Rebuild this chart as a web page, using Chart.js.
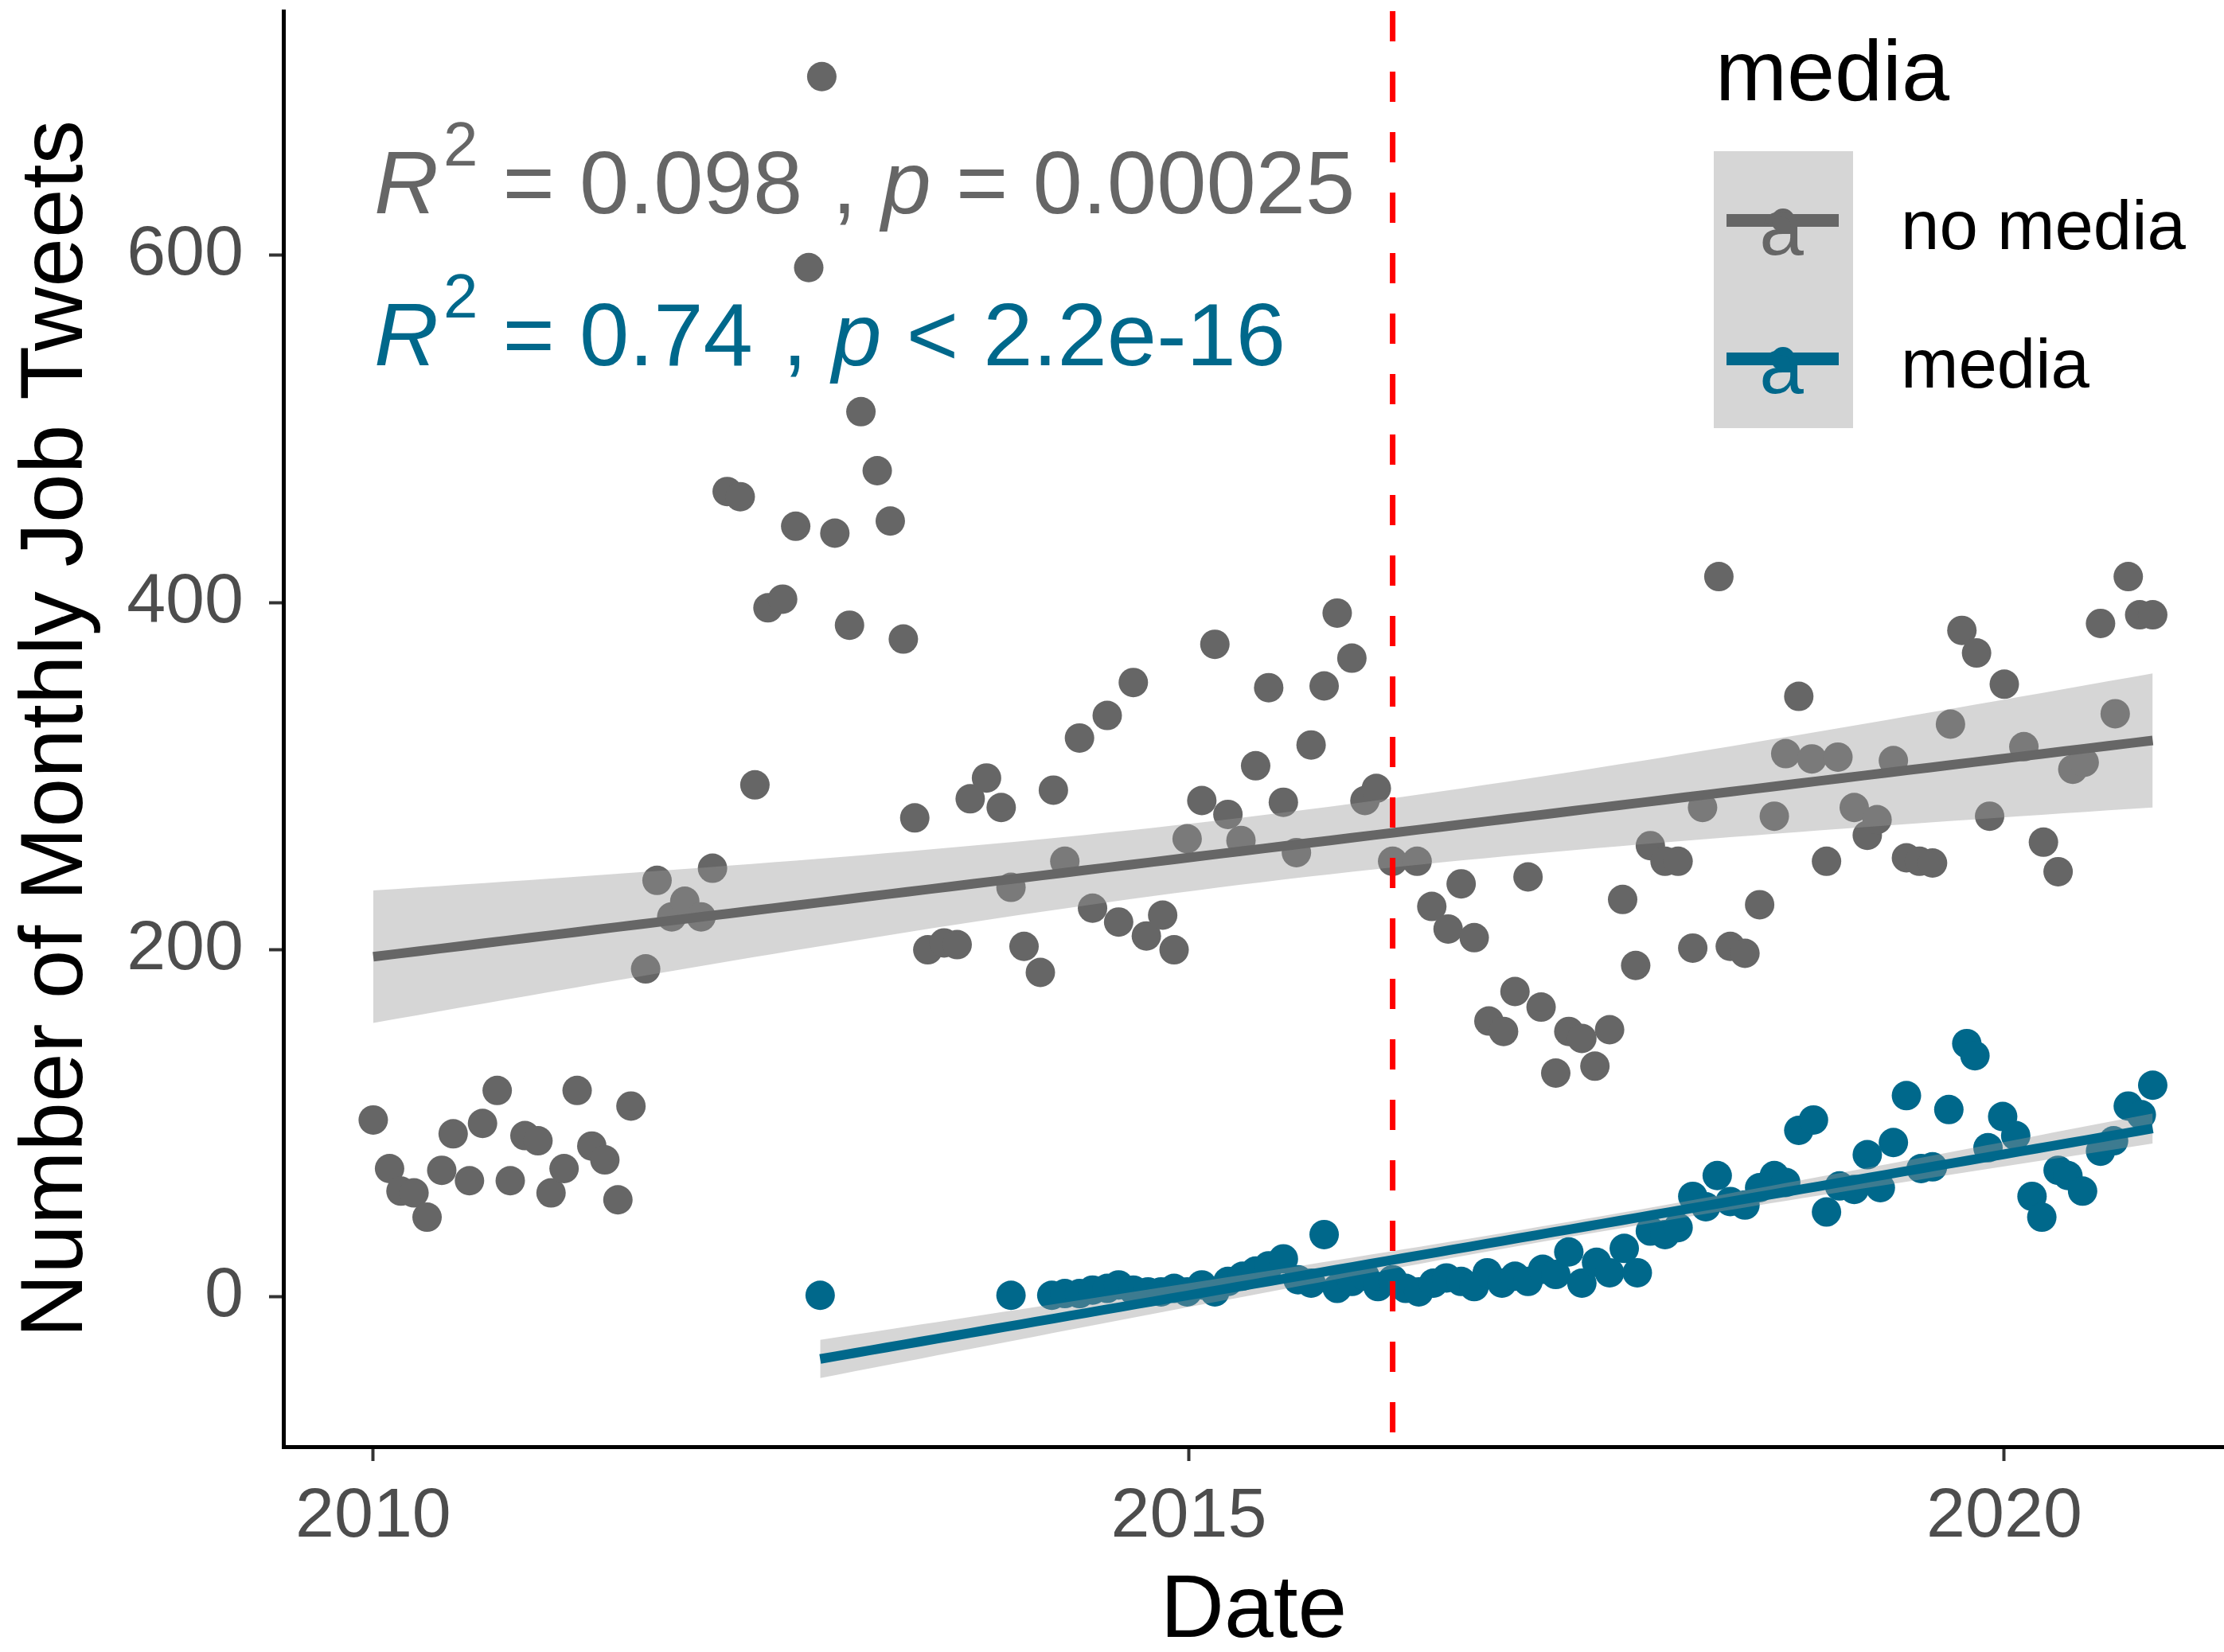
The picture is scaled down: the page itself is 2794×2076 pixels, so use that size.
<!DOCTYPE html>
<html>
<head>
<meta charset="utf-8">
<script src="https://cdn.jsdelivr.net/npm/chart.js@4.4.0/dist/chart.umd.min.js"></script>
<style>
html,body{margin:0;padding:0;background:#ffffff;overflow:hidden}
canvas{display:block}
</style>
</head>
<body>
<canvas id="c" width="2794" height="2076" style="width:2794px;height:2076px"></canvas>
<script>
// ---------------- data ----------------
const noMediaDate = [2010.00,2010.10,2010.17,2010.25,2010.33,2010.42,2010.49,2010.59,2010.67,2010.76,
  2010.84,2010.93,2011.01,2011.09,2011.17,2011.25,2011.34,2011.42,2011.50,2011.58,
  2011.67,2011.74,2011.83,2011.91,2012.01,2012.08,2012.17,2012.25,2012.34,2012.42,
  2012.51,2012.59,2012.67,2012.75,2012.83,2012.92,2012.99,2013.09,2013.17,2013.25,
  2013.32,2013.40,2013.50,2013.58,2013.66,2013.76,2013.85,2013.91,2013.99,2014.09,
  2014.17,2014.24,2014.33,2014.41,2014.50,2014.57,2014.66,2014.74,2014.84,2014.91,
  2014.99,2015.08,2015.16,2015.24,2015.32,2015.41,2015.49,2015.58,2015.66,2015.75,
  2015.83,2015.91,2016.00,2016.08,2016.15,2016.25,2016.40,2016.49,2016.59,2016.67,
  2016.75,2016.84,2016.93,2017.00,2017.08,2017.16,2017.25,2017.33,2017.41,2017.49,
  2017.58,2017.66,2017.74,2017.83,2017.92,2018.00,2018.09,2018.15,2018.25,2018.32,
  2018.41,2018.50,2018.59,2018.66,2018.74,2018.82,2018.91,2018.98,2019.08,2019.16,
  2019.22,2019.32,2019.40,2019.48,2019.56,2019.67,2019.74,2019.83,2019.91,2020.00,
  2020.12,2020.24,2020.33,2020.42,2020.49,2020.59,2020.68,2020.76,2020.83,2020.91];
const noMediaCount = [102,74,61,60,46,73,94,67,100,119,
  67,93,90,60,74,119,87,79,56,110,
  189,240,219,228,219,247,464,461,295,397,
  402,444,593,703,440,387,510,476,447,379,
  276,200,204,203,287,299,282,236,202,187,
  292,251,322,224,335,216,354,208,220,200,
  264,286,376,278,263,306,351,285,256,318,
  352,394,368,286,293,251,251,225,212,238,
  207,159,153,176,242,167,129,153,149,133,
  154,229,191,260,251,251,201,282,415,202,
  198,226,277,313,346,310,251,311,282,266,
  275,309,253,251,250,330,384,371,277,353,
  317,262,245,304,308,388,336,415,393,393];

const mediaDate = [2012.74,2013.91,2014.16,2014.24,2014.33,2014.41,2014.50,2014.57,2014.66,2014.75,
  2014.83,2014.91,2014.99,2015.08,2015.16,2015.24,2015.33,2015.41,2015.49,2015.58,
  2015.67,2015.75,2015.83,2015.91,2016.00,2016.08,2016.16,2016.25,2016.33,2016.41,
  2016.50,2016.58,2016.67,2016.75,2016.83,2016.92,2017.00,2017.08,2017.17,2017.25,
  2017.33,2017.41,2017.50,2017.58,2017.67,2017.75,2017.83,2017.92,2018.00,2018.09,
  2018.17,2018.24,2018.32,2018.41,2018.50,2018.59,2018.66,2018.74,2018.83,2018.91,
  2018.99,2019.08,2019.16,2019.24,2019.32,2019.40,2019.49,2019.56,2019.66,2019.77,
  2019.82,2019.90,2019.99,2020.07,2020.17,2020.23,2020.33,2020.39,2020.48,2020.59,
  2020.67,2020.76,2020.84,2020.91];
const mediaCount = [1,1,1,2,2,4,5,7,4,3,
  3,5,3,7,3,9,12,15,18,22,
  10,8,36,5,9,12,6,10,5,3,
  8,11,9,6,14,8,12,9,16,13,
  26,8,20,14,28,14,38,36,40,58,
  52,70,55,53,63,70,66,96,102,49,
  64,62,82,63,89,116,74,75,108,146,
  139,86,104,93,58,46,73,70,61,84,
  90,110,105,122];

const seriesNames = ['no media', 'media'];
const legendTitle = 'media';
const statR2 = ['0.098', '0.74'];
const statOp = ['=', '<'];
const statP  = ['0.00025', '2.2e-16'];
const policyDate = 2016.25;           // dashed reference line
const xTicks = [2010, 2015, 2020];
const yTicks = [0, 200, 400, 600];
const xLimits = [2009.449, 2021.347];
const yLimits = [-86.2, 740.7];

// ---------------- styling ----------------
const GREY = '#666666';
const BLUE = '#00688B';
const BAND = 'rgba(153,153,153,0.4)';
const FONT = "'Liberation Sans', Arial, Helvetica, sans-serif";

// linear model with 95% confidence band (like geom_smooth(method = 'lm'))
function lmBand(xs, ys, steps) {
  const n = xs.length;
  const mx = xs.reduce((a, b) => a + b, 0) / n;
  const my = ys.reduce((a, b) => a + b, 0) / n;
  let sxx = 0, sxy = 0;
  for (let i = 0; i < n; i++) { sxx += (xs[i] - mx) ** 2; sxy += (xs[i] - mx) * (ys[i] - my); }
  const b = sxy / sxx, a = my - b * mx;
  let sse = 0;
  for (let i = 0; i < n; i++) sse += (ys[i] - a - b * xs[i]) ** 2;
  const s = Math.sqrt(sse / (n - 2));
  const t = 1.959964 + 2.37 / (n - 2);
  const x0 = Math.min(...xs), x1 = Math.max(...xs);
  const fit = [], up = [], lo = [];
  for (let k = 0; k <= steps; k++) {
    const x = x0 + (x1 - x0) * k / steps;
    const yh = a + b * x;
    const se = s * Math.sqrt(1 / n + (x - mx) ** 2 / sxx);
    fit.push({x, y: yh}); up.push({x, y: yh + t * se}); lo.push({x, y: yh - t * se});
  }
  return {fit, up, lo};
}

const nm = lmBand(noMediaDate, noMediaCount, 80);
const md = lmBand(mediaDate, mediaCount, 80);
const noMediaPts = noMediaDate.map((d, i) => ({x: d, y: noMediaCount[i]}));
const mediaPts = mediaDate.map((d, i) => ({x: d, y: mediaCount[i]}));

function bandSet(data, fill) {
  return {type: 'line', data, fill, backgroundColor: BAND, borderColor: 'rgba(0,0,0,0)',
    borderWidth: 0, pointRadius: 0, tension: 0, order: 5};
}
function lineSet(data, color) {
  return {type: 'line', data, fill: false, borderColor: color, borderWidth: 12,
    pointRadius: 0, tension: 0, order: 2};
}
function pointSet(data, color, order) {
  return {type: 'scatter', data, backgroundColor: color, borderWidth: 0,
    pointRadius: 18.5, pointHoverRadius: 18.5, order};
}

function drawRich(ctx, x, y, segs, color) {
  ctx.fillStyle = color;
  ctx.textAlign = 'left';
  ctx.textBaseline = 'alphabetic';
  for (const s of segs) {
    if (s.gap) { x += s.gap; continue; }
    if (s.sup) {
      ctx.font = `78px ${FONT}`;
      x += 6;
      ctx.fillText(s.t, x, y - 60);
      x += ctx.measureText(s.t).width;
    } else {
      ctx.font = `${s.it ? 'italic ' : ''}112px ${FONT}`;
      ctx.fillText(s.t, x, y);
      x += ctx.measureText(s.t).width;
    }
  }
}

const overlay = {
  id: 'overlay',
  afterDraw(chart) {
    const ctx = chart.ctx;
    ctx.save();
    // stat annotations
    const colors = [GREY, BLUE];
    const baselines = [268, 459];
    for (let i = 0; i < 2; i++) {
      drawRich(ctx, 470, baselines[i], [
        {t: 'R', it: true}, {t: '2', sup: true},
        {t: ' = ' + statR2[i]}, {gap: 6}, {t: ' , '}, {t: 'p', it: true},
        {t: ' ' + statOp[i] + ' ' + statP[i]}
      ], colors[i]);
    }
    // legend
    ctx.fillStyle = '#000000';
    ctx.font = `108px ${FONT}`;
    ctx.textAlign = 'left';
    ctx.textBaseline = 'alphabetic';
    ctx.fillText(legendTitle, 2155, 126);
    ctx.fillStyle = '#D6D6D6';
    ctx.fillRect(2153, 190, 175, 348);
    for (let i = 0; i < 2; i++) {
      const cy = 277 + i * 174;
      ctx.fillStyle = colors[i];
      ctx.beginPath(); ctx.arc(2240, cy, 15, 0, Math.PI * 2); ctx.fill();
      ctx.fillRect(2169, cy - 8, 141, 16);
      ctx.font = `100px ${FONT}`;
      ctx.textAlign = 'center';
      ctx.fillText('a', 2238, cy + 43);
      ctx.fillStyle = '#000000';
      ctx.font = `87px ${FONT}`;
      ctx.textAlign = 'left';
      ctx.fillText(seriesNames[i], 2388, cy + 36);
    }
    ctx.restore();
  }
};

function zeroPad(s) { s.paddingTop = 0; s.paddingBottom = 0; s.paddingLeft = 0; s.paddingRight = 0; }

new Chart(document.getElementById('c'), {
  type: 'scatter',
  data: {
    datasets: [
      bandSet(nm.up, '+1'), bandSet(nm.lo, false),
      bandSet(md.up, '+1'), bandSet(md.lo, false),
      lineSet(nm.fit, GREY), lineSet(md.fit, BLUE),
      pointSet(noMediaPts, GREY, 11), pointSet(mediaPts, BLUE, 10),
      {type: 'line', data: [{x: policyDate, y: yLimits[1]}, {x: policyDate, y: yLimits[0]}],
        borderColor: '#FF0000', borderWidth: 7, borderDash: [38, 38], pointRadius: 0,
        fill: false, order: 0}
    ]
  },
  options: {
    responsive: false, animation: false, devicePixelRatio: 1, events: [],
    layout: {padding: {top: 14, right: 0, left: 0, bottom: 0}, autoPadding: false},
    plugins: {legend: {display: false}, tooltip: {enabled: false}},
    scales: {
      x: {
        type: 'linear', min: xLimits[0], max: xLimits[1],
        afterBuildTicks: s => { s.ticks = xTicks.map(v => ({value: v})); },
        afterFit: s => { s.height = 258; zeroPad(s); },
        ticks: {callback: v => String(v), font: {family: FONT, size: 88, lineHeight: 1.2},
          color: '#4D4D4D', padding: 18, maxRotation: 0, autoSkip: false},
        grid: {display: true, drawOnChartArea: false, drawTicks: true, tickLength: 18,
          tickWidth: 4, tickColor: '#333333'},
        border: {display: true, color: '#000000', width: 5},
        title: {display: true, text: 'Date', color: '#000000',
          font: {family: FONT, size: 111, lineHeight: 0.9}, padding: 0}
      },
      y: {
        type: 'linear', min: yLimits[0], max: yLimits[1],
        afterBuildTicks: s => { s.ticks = yTicks.map(v => ({value: v})); },
        afterFit: s => { s.width = 356; zeroPad(s); },
        ticks: {callback: v => String(v), font: {family: FONT, size: 88, lineHeight: 1.2},
          color: '#4D4D4D', padding: 32, autoSkip: false},
        grid: {display: true, drawOnChartArea: false, drawTicks: true, tickLength: 18,
          tickWidth: 4, tickColor: '#333333'},
        border: {display: true, color: '#000000', width: 5},
        title: {display: true, text: 'Number of Monthly Job Tweets', color: '#000000',
          font: {family: FONT, size: 111, lineHeight: 1.2}, padding: {top: 6, bottom: 0}}
      }
    }
  },
  plugins: [overlay]
});
</script>
</body>
</html>
